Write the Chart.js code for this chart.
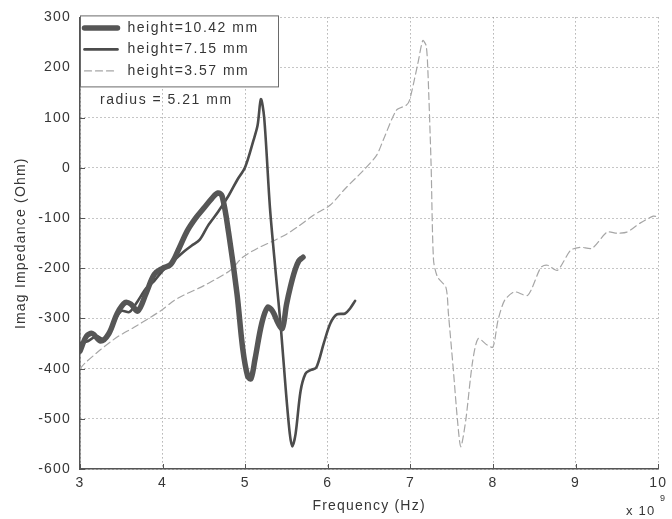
<!DOCTYPE html>
<html lang="en">
<head>
    <meta charset="UTF-8">
    <title>Imag Impedance vs Frequency</title>
    <script src="https://cdn.jsdelivr.net/npm/chart.js"></script>
    <style>
        html, body {
            margin: 0;
            padding: 0;
            background: #ffffff;
        }
        #wrap {
            width: 672px;
            height: 519px;
        }
    </style>
</head>
<body>
<div id="wrap">
    <canvas id="impChart" width="672" height="519"></canvas>
</div>

<script>
    // frequency in GHz (axis shows x 10^9), impedance in Ohm
    const freq1042 = [3.0, 3.08, 3.15, 3.25, 3.35, 3.45, 3.55, 3.62, 3.7, 3.8, 3.9, 4.0, 4.1, 4.2, 4.3, 4.4, 4.5, 4.6, 4.67, 4.72, 4.8, 4.9, 4.97, 5.03, 5.07, 5.12, 5.2, 5.27, 5.33, 5.4, 5.45, 5.5, 5.55, 5.6, 5.65, 5.7];
    const imag1042 = [-365, -335, -330, -345, -330, -290, -268, -272, -285, -250, -212, -200, -192, -160, -125, -100, -80, -60, -50, -56, -130, -250, -360, -415, -420, -380, -310, -278, -285, -310, -320, -272, -235, -205, -185, -178];

    const freq715 = [3.0, 3.1, 3.2, 3.3, 3.4, 3.5, 3.6, 3.7, 3.8, 3.9, 4.0, 4.1, 4.2, 4.27, 4.35, 4.45, 4.55, 4.67, 4.8, 4.9, 5.0, 5.1, 5.15, 5.19, 5.23, 5.3, 5.37, 5.43, 5.49, 5.54, 5.57, 5.61, 5.67, 5.73, 5.79, 5.86, 5.95, 6.03, 6.11, 6.21, 6.27, 6.33];
    const imag715 = [-350, -345, -335, -342, -310, -285, -287, -265, -240, -225, -205, -190, -175, -165, -155, -143, -115, -88, -55, -25, 2, 55, 85, 137, 100, -80, -210, -315, -440, -530, -555, -530, -445, -410, -403, -398, -350, -310, -292, -290, -280, -265];

    const freq357 = [3.0, 3.06, 3.25, 3.45, 3.65, 3.86, 4.0, 4.14, 4.3, 4.46, 4.64, 4.82, 4.97, 5.15, 5.36, 5.5, 5.63, 5.83, 6.03, 6.19, 6.23, 6.43, 6.59, 6.67, 6.83, 6.95, 6.99, 7.09, 7.15, 7.19, 7.21, 7.25, 7.28, 7.33, 7.43, 7.46, 7.52, 7.57, 7.61, 7.67, 7.75, 7.82, 7.93, 8.0, 8.06, 8.14, 8.26, 8.42, 8.58, 8.66, 8.78, 8.94, 9.06, 9.2, 9.38, 9.5, 9.62, 9.78, 9.94, 10.0];
    const imag357 = [-400, -389, -362, -337, -318, -297, -282, -264, -250, -238, -222, -204, -178, -160, -144, -132, -118, -94, -74, -45, -38, -5, 25, 55, 115, 125, 135, 208, 254, 244, 200, 9, -184, -218, -238, -290, -403, -503, -556, -503, -389, -340, -353, -357, -304, -264, -247, -254, -198, -194, -204, -164, -158, -160, -128, -130, -128, -110, -96, -98];

    const xTicks = [3, 4, 5, 6, 7, 8, 9, 10];
    const yTicks = [-600, -500, -400, -300, -200, -100, 0, 100, 200, 300];

    const seriesNames = ['height=10.42 mm', 'height=7.15 mm', 'height=3.57 mm'];
    const noteText = 'radius = 5.21 mm';

    function pairUp(xs, ys) {
        return xs.map((x, i) => ({ x: x, y: ys[i] }));
    }

    const textColor = '#363636';
    const fontFamily = '"Liberation Sans", Arial, sans-serif';

    // wide-tracked lettering like the old plotting software
    const spacingPlugin = {
        id: 'spacing',
        beforeDraw(chart) {
            chart.ctx.letterSpacing = '1.2px';
        }
    };

    // legend box, radius note, inward ticks and the x 10^9 multiplier
    const decorPlugin = {
        id: 'decor',
        afterDraw(chart) {
            const ctx = chart.ctx;
            const area = chart.chartArea;
            const xs = chart.scales.x;
            const ys = chart.scales.y;
            ctx.save();

            // inward tick marks
            ctx.strokeStyle = '#555';
            ctx.lineWidth = 1;
            ctx.setLineDash([]);
            xTicks.forEach(v => {
                const px = Math.round(xs.getPixelForValue(v)) + 0.5;
                ctx.beginPath();
                ctx.moveTo(px, area.bottom);
                ctx.lineTo(px, area.bottom - 5);
                ctx.stroke();
            });
            yTicks.forEach(v => {
                const py = Math.round(ys.getPixelForValue(v)) + 0.5;
                ctx.beginPath();
                ctx.moveTo(area.left, py);
                ctx.lineTo(area.left + 5, py);
                ctx.stroke();
            });

            // legend
            const bx = area.left + 0.5, by = area.top - 1.5, bw = 198, bh = 71;
            ctx.fillStyle = '#ffffff';
            ctx.fillRect(bx, by, bw, bh);
            ctx.strokeStyle = '#6a6a6a';
            ctx.lineWidth = 1;
            ctx.strokeRect(bx, by, bw, bh);
            ctx.font = '14px ' + fontFamily;
            ctx.letterSpacing = '1.5px';
            ctx.textBaseline = 'middle';
            chart.data.datasets.forEach((ds, i) => {
                const ly = by + 12 + i * 21.5;
                ctx.strokeStyle = ds.borderColor;
                ctx.lineWidth = ds.borderWidth;
                ctx.setLineDash(ds.borderDash || []);
                ctx.lineCap = 'round';
                ctx.beginPath();
                ctx.moveTo(bx + 4, ly);
                ctx.lineTo(bx + 37, ly);
                ctx.stroke();
                ctx.setLineDash([]);
                ctx.fillStyle = textColor;
                ctx.fillText(ds.label, bx + 47, ly);
            });

            // radius note
            ctx.fillStyle = textColor;
            ctx.fillText(noteText, area.left + 20, area.top + 83);

            // exponent under the x axis
            ctx.font = '13px ' + fontFamily;
            ctx.letterSpacing = '1.2px';
            ctx.fillText('x 10', 626, 511);
            ctx.font = '9px ' + fontFamily;
            ctx.fillText('9', 660, 499);
            ctx.restore();
        }
    };

    const ctx = document.getElementById('impChart').getContext('2d');
    new Chart(ctx, {
        type: 'line',
        data: {
            datasets: [{
                label: seriesNames[0],
                data: pairUp(freq1042, imag1042),
                borderColor: '#565656',
                borderWidth: 5.5,
                tension: 0.35
            }, {
                label: seriesNames[1],
                data: pairUp(freq715, imag715),
                borderColor: '#4c4c4c',
                borderWidth: 2.6,
                tension: 0.3
            }, {
                label: seriesNames[2],
                data: pairUp(freq357, imag357),
                borderColor: '#a6a6a6',
                borderWidth: 1.2,
                borderDash: [7, 4],
                tension: 0.25
            }]
        },
        options: {
            responsive: false,
            animation: false,
            devicePixelRatio: 1,
            layout: {
                padding: { top: 17, right: 7, left: 0, bottom: 0 }
            },
            elements: {
                point: { radius: 0 },
                line: { fill: false, borderCapStyle: 'round', borderJoinStyle: 'round' }
            },
            plugins: {
                legend: { display: false },
                tooltip: { enabled: false }
            },
            scales: {
                x: {
                    type: 'linear',
                    min: 3,
                    max: 10,
                    afterBuildTicks: s => { s.ticks = xTicks.map(v => ({ value: v })); },
                    afterFit: s => { s.height = 50; },
                    grid: { color: '#8c8c8c', lineWidth: 1, drawTicks: false },
                    border: { display: true, color: '#555', width: 1.5, dash: [1, 3] },
                    ticks: {
                        color: textColor,
                        padding: 6,
                        font: { family: fontFamily, size: 14 }
                    },
                    title: {
                        display: true,
                        text: 'Frequency (Hz)',
                        color: textColor,
                        padding: { top: 2 },
                        font: { family: fontFamily, size: 14 }
                    }
                },
                y: {
                    type: 'linear',
                    min: -600,
                    max: 300,
                    afterBuildTicks: s => { s.ticks = yTicks.map(v => ({ value: v })); },
                    afterFit: s => { s.width = 80; },
                    grid: { color: '#8c8c8c', lineWidth: 1, drawTicks: false },
                    border: { display: true, color: '#555', width: 1.5, dash: [1, 3] },
                    ticks: {
                        color: textColor,
                        padding: 9,
                        font: { family: fontFamily, size: 14 }
                    },
                    title: {
                        display: true,
                        text: 'Imag Impedance (Ohm)',
                        color: textColor,
                        padding: { top: 13, bottom: 0 },
                        font: { family: fontFamily, size: 14 }
                    }
                }
            }
        },
        plugins: [spacingPlugin, decorPlugin]
    });
</script>
</body>
</html>
